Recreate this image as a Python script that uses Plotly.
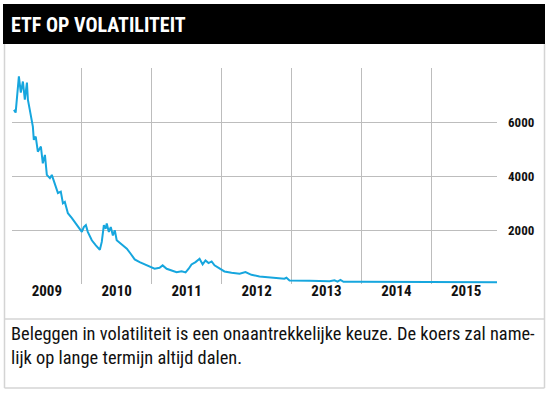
import plotly.graph_objects as go

# ---- data ----
dates = [
    "2009-01-11", "2009-01-20", "2009-02-06", "2009-02-16", "2009-02-27", "2009-03-09",
    "2009-03-20", "2009-03-25", "2009-04-04", "2009-04-20", "2009-04-25", "2009-05-05",
    "2009-05-16", "2009-06-01", "2009-06-11", "2009-06-22", "2009-07-02", "2009-07-18",
    "2009-07-28", "2009-08-13", "2009-08-29", "2009-09-13", "2009-09-24", "2009-10-04",
    "2009-10-20", "2009-11-10", "2009-12-01", "2009-12-21", "2010-01-01", "2010-01-11",
    "2010-01-22", "2010-02-01", "2010-02-22", "2010-03-15", "2010-04-05", "2010-04-15",
    "2010-04-26", "2010-05-06", "2010-05-11", "2010-05-22", "2010-06-01", "2010-06-12",
    "2010-06-22", "2010-07-02", "2010-07-18", "2010-08-03", "2010-08-24", "2010-09-13",
    "2010-10-04", "2010-10-30", "2010-11-25", "2010-12-21", "2011-01-16", "2011-02-11",
    "2011-02-27", "2011-03-20", "2011-04-15", "2011-05-11", "2011-06-06", "2011-06-27",
    "2011-07-13", "2011-07-28", "2011-08-18", "2011-09-08", "2011-09-24", "2011-10-09",
    "2011-10-25", "2011-11-10", "2011-11-25", "2011-12-21", "2012-01-16", "2012-02-22",
    "2012-04-04", "2012-05-05", "2012-06-05", "2012-07-17", "2012-08-28", "2012-10-29",
    "2012-11-24", "2012-12-05", "2012-12-21", "2013-04-04", "2013-07-18", "2013-08-13",
    "2013-08-29", "2013-09-13", "2013-09-29", "2013-12-21", "2014-07-17", "2015-04-04",
    "2015-12-21",
]
koers = [
    6450, 6350, 7690, 7090, 7500, 6830,
    7460, 6830, 6450, 5830, 5340, 5460,
    4900, 5090, 4470, 4780, 4040, 3920,
    4040, 3740, 3370, 3420, 2990, 3040,
    2620, 2440, 2250, 2060, 1930, 2110,
    2180, 1930, 1620, 1430, 1270, 1560,
    2180, 2050, 2240, 1930, 2110, 1800,
    1990, 1620, 1520, 1430, 1310, 1120,
    910, 810, 725, 625, 565, 600,
    690, 565, 500, 440, 475, 430,
    565, 725, 810, 935, 725, 875,
    775, 835, 690, 565, 465, 415,
    380, 440, 340, 280, 255, 205,
    195, 230, 130, 120, 105, 140,
    90, 150, 80, 80, 75, 70,
    65,
]
year_labels = ["2009", "2010", "2011", "2012", "2013", "2014", "2015"]
label_pos = [y + "-07-02" for y in year_labels]
year_lines = ["2010-01-01", "2011-01-01", "2012-01-01", "2013-01-01", "2014-01-01", "2015-01-01"]
y_ticks = [2000, 4000, 6000]

title_text = "ETF OP VOLATILITEIT"
caption = ("Beleggen in volatiliteit is een onaantrekkelijke keuze. De koers zal name-<br>"
           "lijk op lange termijn altijd dalen.")

# ---- layout geometry (pixels) ----
W, H = 548, 394
PL, PR, PT, PB = 12, 497, 68, 284  # plot area


def px(x):
    return (x - PL) / (PR - PL)


def py(y):
    return (PB - y) / (PB - PT)


COND = "Roboto Condensed, DejaVu Sans Condensed, sans-serif"
GRID = "#bdbdbd"
BORDER = "#d4d4d4"

fig = go.Figure()
fig.add_trace(go.Scatter(
    x=dates, y=koers, mode="lines",
    line=dict(color="#16a6de", width=2),
    hoverinfo="skip", showlegend=False,
))

fig.update_layout(
    width=W, height=H,
    margin=dict(l=PL, r=W - PR, t=PT, b=H - PB, pad=0),
    paper_bgcolor="white", plot_bgcolor="white",
    xaxis=dict(
        type="date",
        range=["2009-01-01", "2015-12-10"],
        tickmode="array", tickvals=label_pos, ticktext=year_labels,
        showgrid=False, zeroline=False, showline=False, ticks="",
        tickfont=dict(family=COND, size=15, color="#111111", weight="bold"),
        ticklabelstandoff=-4,
        minor=dict(tickmode="array", tickvals=year_lines, showgrid=True,
                   gridcolor=GRID, gridwidth=1, ticks=""),
        fixedrange=True,
    ),
    yaxis=dict(
        side="right", range=[0, 8000],
        tickmode="array", tickvals=y_ticks, ticktext=[str(v) for v in y_ticks],
        showgrid=True, gridcolor=GRID, gridwidth=1,
        zeroline=False, showline=False, ticks="",
        tickfont=dict(family=COND, size=13, color="#111111", weight="bold"),
        ticklabelstandoff=10,
        fixedrange=True,
    ),
    shapes=[
        dict(type="rect", xref="paper", yref="paper",
             x0=px(3), x1=px(545), y0=py(44), y1=py(4),
             fillcolor="black", line=dict(width=0), layer="below"),
        dict(type="line", xref="paper", yref="paper",
             x0=px(4.5), x1=px(4.5), y0=py(44), y1=py(388),
             line=dict(color=BORDER, width=1.5)),
        dict(type="line", xref="paper", yref="paper",
             x0=px(544.5), x1=px(544.5), y0=py(44), y1=py(388),
             line=dict(color=BORDER, width=1.5)),
        dict(type="line", xref="paper", yref="paper",
             x0=px(4.5), x1=px(544.5), y0=py(388), y1=py(388),
             line=dict(color=BORDER, width=1.5)),
        dict(type="line", xref="paper", yref="paper",
             x0=px(4.5), x1=px(544.5), y0=py(319), y1=py(319),
             line=dict(color=BORDER, width=1.5)),
    ],
    annotations=[
        dict(text="<b>" + title_text + "</b>", xref="paper", yref="paper",
             x=px(9), y=py(24.5), xanchor="left", yanchor="middle",
             showarrow=False, font=dict(family=COND, size=20, color="white")),
        dict(text=caption, xref="paper", yref="paper",
             x=px(9), y=py(321), xanchor="left", yanchor="top", align="left",
             showarrow=False, font=dict(family=COND, size=18.4, color="#111111")),
    ],
)

fig.write_html("out.html", config={"displayModeBar": False},
               post_script="document.body.style.margin='0';")
